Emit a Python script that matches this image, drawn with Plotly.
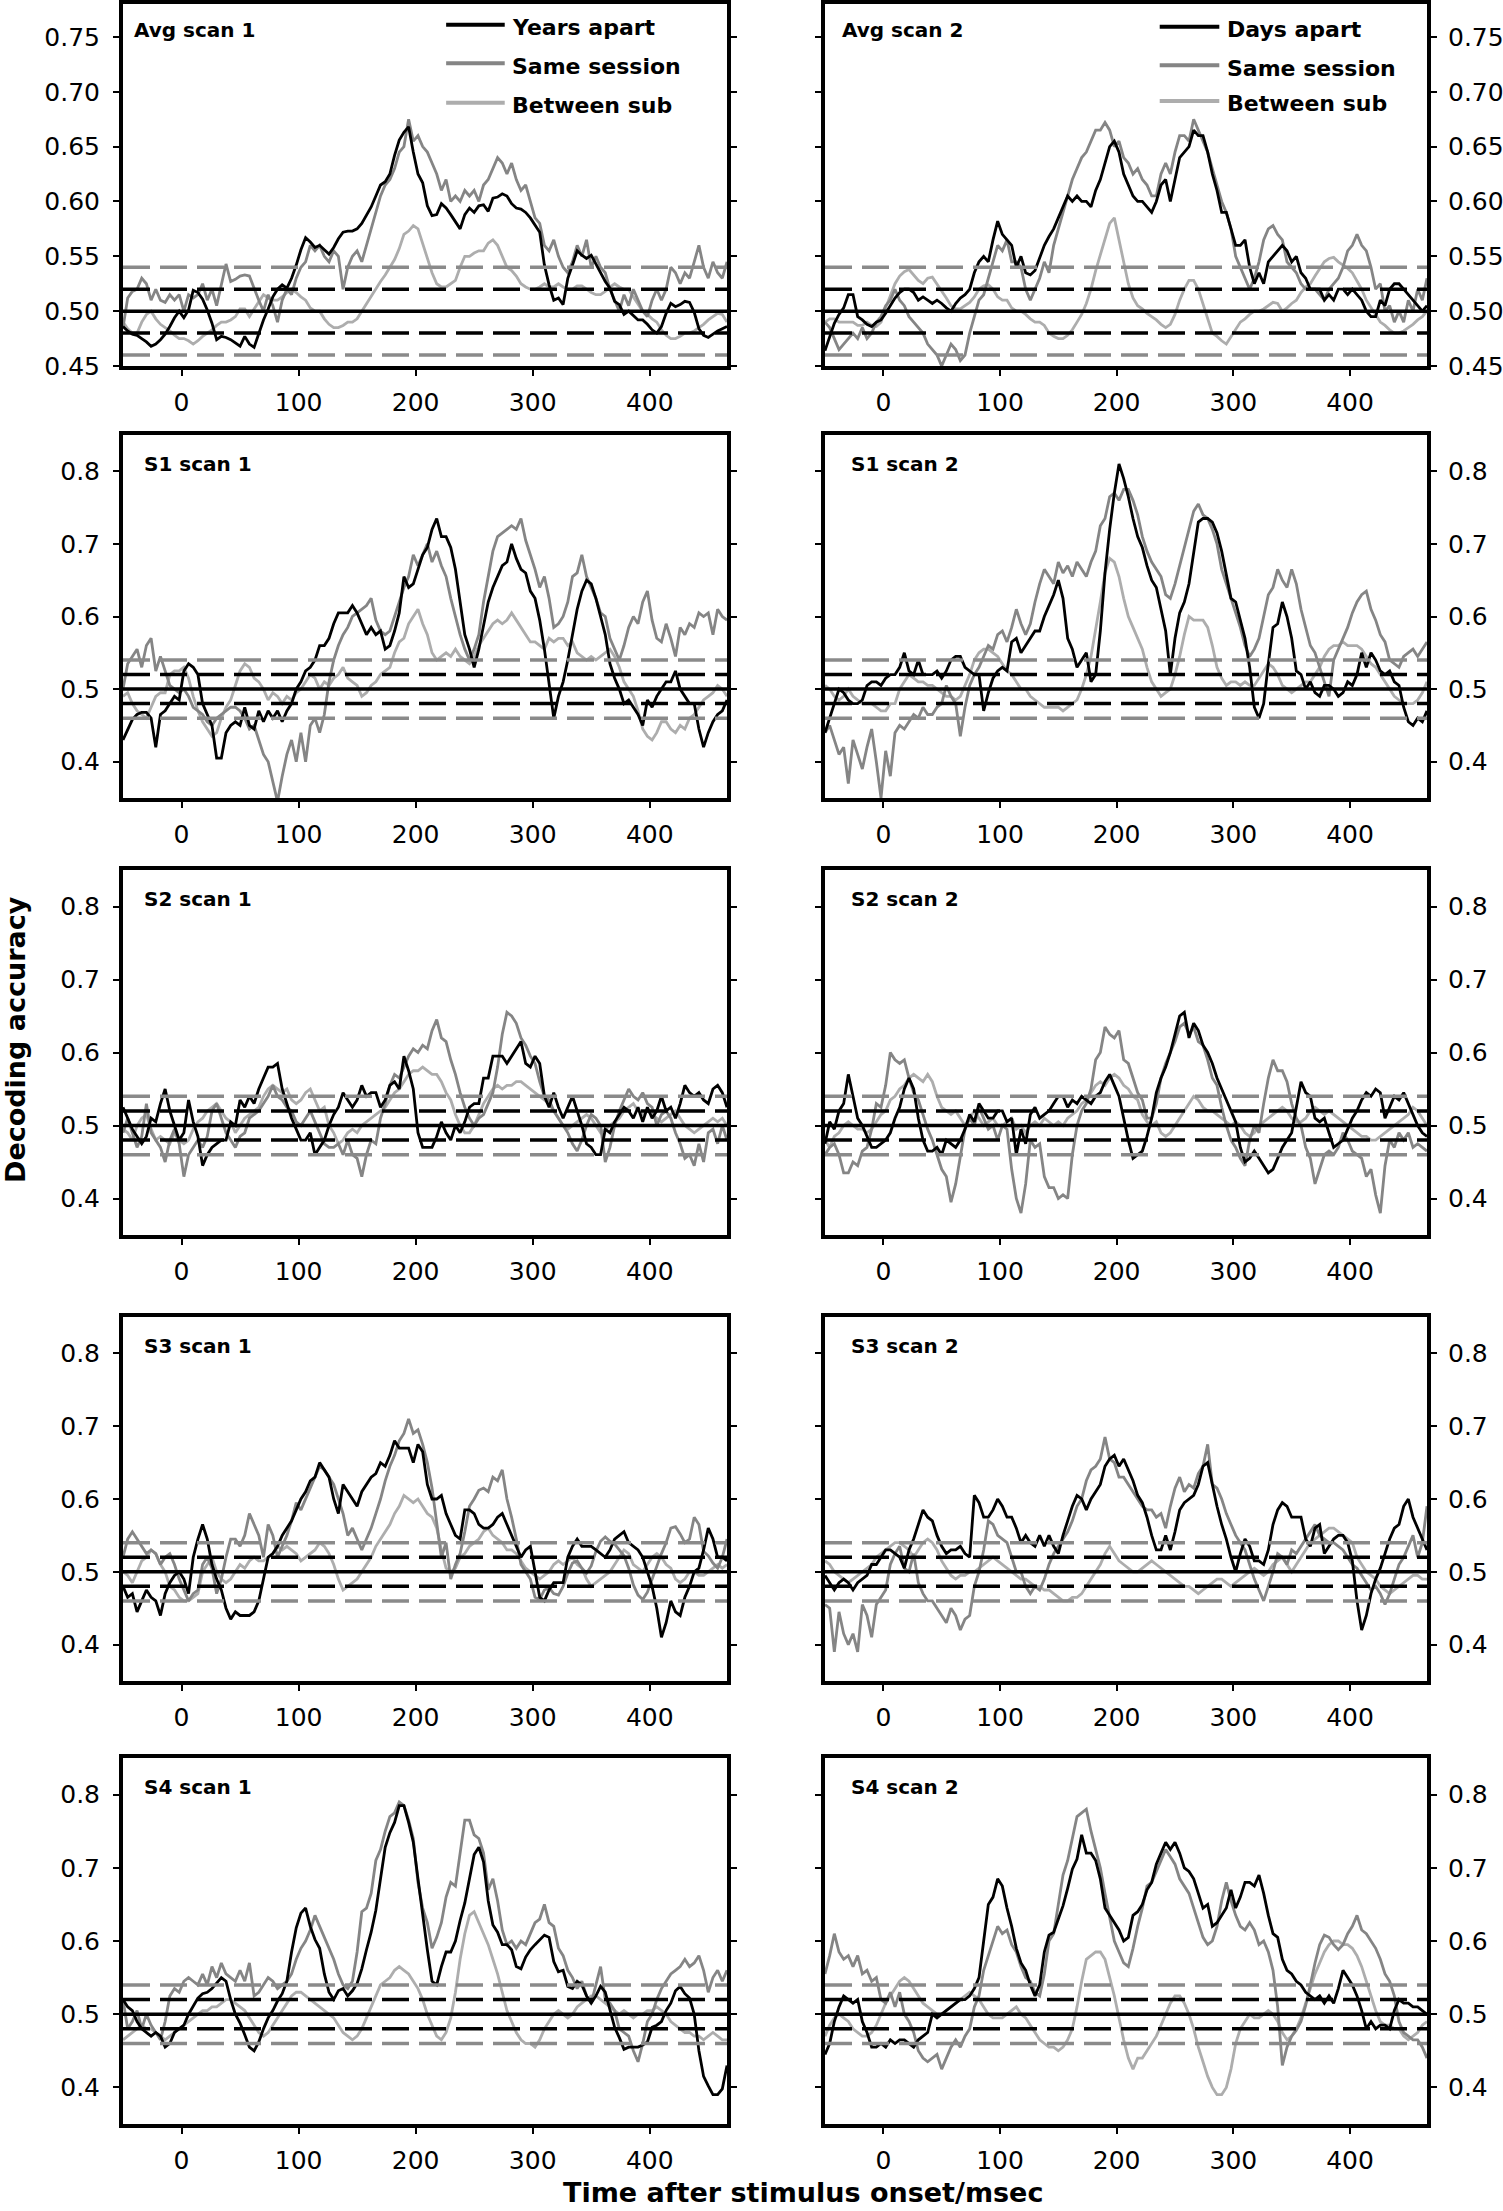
import plotly.graph_objects as go

# ---------------- data ----------------
T = [-50,-46,-42,-38,-34,-30,-26,-22,-18,-14,
     -10,-6,-2,2,6,10,14,18,22,26,
     30,34,38,42,46,50,54,58,62,66,
     70,74,78,82,86,90,94,98,102,106,
     110,114,118,122,126,130,134,138,142,146,
     150,154,158,162,166,170,174,178,182,186,
     190,194,198,202,206,210,214,218,222,226,
     230,234,238,242,246,250,254,258,262,266,
     270,274,278,282,286,290,294,298,302,306,
     310,314,318,322,326,330,334,338,342,346,
     350,354,358,362,366,370,374,378,382,386,
     390,394,398,402,406,410,414,418,422,426,
     430,434,438,442,446,450,454,458,462,466]

AVG1_APART = [
 .486,.482,.479,.478,.475,.472,.468,.470,.474,.479,
 .486,.494,.500,.494,.501,.519,.517,.511,.501,.489,
 .474,.477,.476,.474,.471,.468,.477,.470,.467,.480,
 .492,.502,.513,.520,.524,.521,.530,.542,.556,.567,
 .563,.558,.560,.556,.552,.558,.566,.572,.573,.573,
 .575,.580,.588,.595,.605,.615,.618,.625,.642,.656,
 .663,.668,.645,.625,.617,.596,.587,.588,.598,.594,
 .588,.582,.575,.588,.594,.590,.596,.597,.591,.603,
 .604,.607,.605,.598,.594,.593,.590,.585,.578,.572,
 .542,.524,.510,.512,.506,.530,.542,.555,.551,.548,
 .551,.543,.535,.527,.521,.509,.506,.497,.500,.496,
 .492,.492,.488,.483,.480,.486,.498,.507,.504,.506,
 .509,.508,.499,.484,.478,.476,.479,.482,.484,.486]
AVG1_SAME = [
 .485,.512,.518,.520,.530,.525,.510,.520,.510,.508,
 .515,.510,.515,.500,.515,.512,.515,.525,.510,.520,
 .505,.525,.543,.527,.529,.532,.533,.532,.520,.510,
 .500,.515,.505,.490,.510,.520,.515,.530,.540,.545,
 .560,.555,.560,.550,.545,.555,.550,.520,.540,.550,
 .555,.545,.560,.575,.590,.605,.615,.620,.630,.645,
 .650,.675,.655,.660,.650,.645,.635,.625,.610,.620,
 .600,.605,.600,.610,.605,.610,.600,.615,.620,.630,
 .640,.635,.625,.635,.620,.610,.615,.600,.585,.580,
 .560,.555,.565,.550,.540,.535,.545,.560,.550,.565,
 .540,.550,.540,.535,.520,.510,.500,.515,.505,.520,
 .510,.500,.495,.510,.520,.510,.520,.540,.535,.525,
 .535,.530,.545,.560,.540,.530,.545,.535,.530,.545]
AVG1_BETWEEN = [
 .490,.484,.480,.480,.490,.497,.500,.493,.488,.485,
 .482,.478,.475,.475,.473,.470,.473,.477,.480,.483,
 .487,.490,.490,.492,.495,.502,.502,.495,.502,.508,
 .515,.512,.510,.510,.513,.517,.520,.517,.513,.510,
 .503,.500,.500,.493,.488,.485,.485,.487,.490,.490,
 .493,.500,.507,.513,.520,.527,.533,.540,.547,.557,
 .570,.573,.578,.575,.562,.547,.535,.525,.522,.522,
 .525,.528,.540,.550,.550,.553,.555,.555,.562,.565,
 .560,.550,.540,.537,.532,.525,.522,.520,.520,.522,
 .525,.522,.522,.525,.522,.520,.520,.523,.523,.520,
 .517,.515,.515,.518,.522,.525,.522,.520,.520,.513,
 .507,.500,.497,.493,.490,.483,.478,.475,.475,.477,
 .480,.480,.482,.485,.488,.492,.495,.498,.497,.490]

AVG2_APART = [
 .464,.477,.489,.497,.503,.515,.515,.495,.492,.488,
 .486,.490,.492,.498,.505,.512,.517,.520,.520,.517,
 .510,.513,.510,.507,.510,.507,.503,.500,.507,.512,
 .515,.520,.535,.545,.550,.545,.565,.582,.570,.565,
 .560,.540,.550,.535,.533,.537,.548,.560,.568,.575,
 .585,.595,.605,.600,.605,.600,.600,.595,.610,.620,
 .635,.650,.655,.645,.625,.615,.605,.600,.600,.595,
 .590,.600,.615,.620,.600,.620,.640,.645,.650,.665,
 .660,.660,.645,.625,.610,.590,.590,.575,.560,.560,
 .565,.540,.525,.535,.525,.545,.550,.555,.560,.555,
 .545,.550,.535,.530,.520,.520,.520,.510,.515,.510,
 .520,.520,.515,.520,.515,.510,.500,.495,.495,.510,
 .505,.520,.525,.525,.520,.515,.510,.505,.500,.505]
AVG2_SAME = [
 .490,.485,.475,.465,.470,.475,.480,.475,.485,.475,
 .480,.490,.495,.505,.510,.520,.510,.505,.495,.490,
 .485,.480,.470,.465,.460,.450,.460,.470,.465,.455,
 .460,.480,.495,.510,.515,.530,.545,.560,.555,.565,
 .545,.545,.540,.520,.510,.520,.530,.545,.535,.560,
 .575,.590,.605,.620,.630,.640,.645,.655,.665,.665,
 .672,.665,.650,.655,.640,.635,.625,.630,.620,.615,
 .605,.605,.625,.635,.625,.645,.660,.660,.655,.675,
 .665,.655,.645,.630,.615,.600,.590,.575,.550,.540,
 .530,.520,.530,.545,.565,.575,.578,.570,.565,.545,
 .540,.535,.525,.520,.520,.520,.515,.510,.520,.525,
 .530,.540,.555,.560,.570,.560,.555,.540,.520,.525,
 .500,.505,.490,.500,.490,.510,.500,.520,.510,.530]
AVG2_BETWEEN = [
 .490,.493,.493,.490,.490,.490,.490,.487,.487,.490,
 .487,.486,.490,.503,.515,.525,.532,.536,.538,.533,
 .528,.525,.530,.531,.525,.518,.512,.505,.502,.502,
 .505,.508,.513,.520,.523,.524,.520,.513,.510,.510,
 .503,.500,.500,.497,.493,.490,.490,.487,.480,.477,
 .475,.475,.478,.483,.490,.497,.507,.520,.537,.552,
 .565,.580,.585,.565,.545,.525,.512,.505,.502,.498,
 .495,.492,.488,.485,.488,.497,.510,.520,.528,.528,
 .520,.507,.493,.480,.477,.473,.470,.477,.483,.490,
 .493,.497,.500,.500,.502,.505,.508,.507,.500,.503,
 .507,.510,.517,.522,.525,.532,.538,.545,.548,.549,
 .545,.542,.539,.535,.528,.520,.510,.503,.497,.490,
 .487,.483,.480,.480,.482,.485,.488,.492,.495,.500]

S1A_APART = [
 .430,.445,.458,.465,.468,.468,.460,.420,.465,.470,
 .480,.490,.485,.525,.535,.530,.520,.480,.465,.450,
 .405,.405,.440,.450,.455,.450,.475,.450,.445,.470,
 .455,.470,.460,.470,.455,.470,.480,.500,.510,.525,
 .530,.540,.560,.560,.570,.590,.605,.605,.605,.615,
 .605,.590,.575,.585,.575,.580,.555,.560,.580,.605,
 .655,.640,.645,.665,.685,.695,.720,.735,.710,.710,
 .695,.665,.620,.575,.555,.530,.555,.590,.620,.640,
 .655,.670,.675,.700,.680,.665,.660,.635,.625,.595,
 .555,.510,.460,.490,.510,.540,.575,.610,.635,.650,
 .645,.625,.600,.575,.535,.515,.500,.480,.485,.475,
 .465,.450,.485,.475,.490,.500,.510,.510,.525,.500,
 .490,.480,.480,.445,.420,.440,.455,.465,.470,.485]
S1A_SAME = [
 .500,.535,.545,.555,.530,.560,.570,.525,.545,.525,
 .505,.500,.495,.500,.490,.475,.470,.465,.455,.450,
 .460,.465,.470,.475,.475,.470,.460,.445,.450,.430,
 .410,.400,.370,.345,.380,.410,.430,.400,.440,.400,
 .450,.460,.440,.465,.510,.540,.560,.575,.585,.600,
 .605,.610,.615,.625,.595,.580,.575,.580,.600,.620,
 .640,.655,.685,.670,.685,.700,.675,.690,.670,.655,
 .625,.600,.575,.555,.540,.555,.575,.620,.655,.690,
 .710,.715,.720,.725,.720,.735,.705,.685,.665,.640,
 .655,.625,.585,.590,.600,.620,.655,.660,.685,.655,
 .640,.625,.605,.600,.570,.555,.540,.560,.585,.600,
 .590,.620,.635,.595,.570,.565,.590,.570,.545,.585,
 .575,.590,.585,.605,.600,.605,.575,.610,.600,.595]
S1A_BETWEEN = [
 .490,.495,.480,.470,.465,.460,.475,.490,.495,.495,
 .520,.525,.525,.530,.515,.490,.470,.455,.445,.435,
 .440,.460,.475,.485,.505,.525,.535,.530,.515,.510,
 .500,.485,.495,.490,.480,.490,.485,.495,.500,.510,
 .520,.515,.500,.510,.505,.515,.520,.530,.515,.510,
 .505,.490,.495,.505,.510,.520,.525,.530,.550,.565,
 .570,.590,.600,.610,.590,.575,.550,.540,.545,.550,
 .545,.555,.545,.540,.535,.545,.560,.570,.580,.590,
 .595,.590,.595,.605,.595,.585,.575,.565,.565,.560,
 .555,.570,.565,.570,.570,.560,.565,.550,.545,.540,
 .545,.540,.545,.550,.555,.545,.530,.510,.500,.490,
 .470,.445,.435,.430,.440,.455,.455,.445,.440,.450,
 .445,.460,.465,.475,.485,.490,.495,.505,.500,.490]

S1B_APART = [
 .440,.460,.480,.500,.495,.485,.480,.480,.485,.505,
 .510,.510,.505,.515,.520,.520,.530,.550,.525,.520,
 .540,.520,.520,.520,.525,.515,.525,.540,.545,.545,
 .530,.525,.520,.520,.470,.495,.515,.525,.530,.525,
 .565,.570,.550,.560,.570,.580,.580,.600,.615,.630,
 .650,.625,.570,.555,.530,.540,.550,.510,.520,.580,
 .660,.720,.770,.810,.790,.765,.735,.710,.695,.670,
 .650,.640,.610,.580,.520,.570,.605,.620,.645,.690,
 .730,.735,.735,.730,.715,.690,.660,.625,.620,.595,
 .570,.530,.475,.460,.480,.535,.585,.590,.620,.600,
 .570,.525,.520,.500,.510,.495,.490,.505,.505,.500,
 .490,.495,.510,.505,.520,.550,.530,.550,.540,.525,
 .520,.525,.510,.505,.475,.455,.450,.460,.455,.470]
S1B_SAME = [
 .440,.450,.430,.410,.420,.370,.430,.410,.390,.420,
 .445,.400,.350,.415,.380,.440,.450,.445,.455,.465,
 .460,.475,.465,.465,.475,.480,.505,.490,.480,.435,
 .475,.505,.520,.530,.545,.560,.555,.575,.580,.565,
 .585,.610,.590,.575,.590,.620,.645,.665,.655,.645,
 .675,.660,.670,.655,.675,.665,.655,.675,.690,.725,
 .735,.765,.770,.760,.775,.775,.760,.740,.710,.690,
 .675,.665,.655,.630,.625,.645,.670,.695,.720,.745,
 .755,.740,.735,.720,.700,.665,.645,.625,.605,.585,
 .560,.545,.555,.570,.600,.630,.640,.665,.650,.640,
 .665,.645,.610,.585,.560,.550,.530,.510,.490,.540,
 .555,.570,.585,.605,.620,.630,.635,.610,.595,.575,
 .565,.540,.535,.530,.545,.550,.555,.545,.555,.565]
S1B_BETWEEN = [
 .505,.500,.490,.485,.490,.500,.490,.485,.480,.480,
 .480,.475,.470,.470,.480,.480,.500,.510,.520,.515,
 .510,.510,.505,.505,.500,.495,.490,.490,.485,.490,
 .505,.520,.540,.550,.555,.555,.550,.545,.535,.525,
 .520,.510,.500,.500,.490,.485,.480,.475,.475,.475,
 .475,.470,.475,.480,.485,.500,.520,.545,.580,.620,
 .660,.680,.675,.655,.625,.600,.585,.570,.555,.530,
 .510,.500,.490,.495,.500,.520,.545,.575,.600,.595,
 .595,.595,.585,.560,.530,.515,.505,.510,.510,.505,
 .510,.505,.505,.515,.525,.535,.530,.520,.505,.500,
 .495,.500,.505,.510,.510,.520,.530,.545,.555,.560,
 .560,.565,.560,.560,.560,.555,.545,.535,.530,.520,
 .510,.500,.490,.485,.480,.480,.480,.485,.495,.510]

S2A_APART = [
 .525,.510,.495,.485,.475,.485,.510,.505,.530,.550,
 .520,.500,.480,.490,.535,.505,.485,.445,.460,.470,
 .475,.480,.480,.505,.500,.535,.525,.540,.530,.550,
 .565,.580,.580,.585,.550,.530,.510,.495,.480,.480,
 .490,.460,.470,.480,.500,.515,.525,.545,.535,.525,
 .535,.555,.540,.545,.545,.525,.535,.555,.560,.550,
 .595,.575,.550,.490,.470,.470,.470,.485,.505,.490,
 .480,.500,.490,.505,.525,.530,.530,.565,.565,.595,
 .595,.595,.585,.595,.605,.615,.585,.580,.595,.585,
 .540,.525,.545,.525,.510,.525,.540,.520,.500,.475,
 .470,.460,.460,.495,.490,.505,.515,.525,.520,.510,
 .525,.505,.525,.510,.520,.540,.520,.525,.510,.530,
 .555,.545,.540,.545,.535,.530,.550,.555,.545,.525]
S2A_SAME = [
 .490,.510,.490,.470,.485,.530,.490,.480,.470,.450,
 .480,.495,.475,.430,.460,.470,.480,.470,.485,.520,
 .530,.510,.490,.480,.470,.485,.490,.510,.515,.520,
 .530,.540,.555,.540,.535,.525,.520,.505,.500,.510,
 .520,.505,.490,.475,.470,.470,.475,.460,.480,.460,
 .455,.430,.460,.480,.475,.510,.530,.555,.570,.565,
 .580,.595,.605,.600,.610,.605,.630,.645,.620,.615,
 .590,.570,.545,.525,.510,.500,.510,.515,.530,.545,
 .580,.625,.655,.650,.640,.620,.610,.595,.585,.560,
 .540,.535,.520,.510,.500,.490,.475,.465,.480,.500,
 .515,.510,.500,.450,.470,.500,.520,.535,.550,.540,
 .535,.545,.530,.525,.500,.515,.520,.510,.490,.475,
 .455,.460,.445,.475,.450,.490,.495,.475,.500,.480]
S2A_BETWEEN = [
 .495,.490,.480,.500,.510,.515,.495,.480,.485,.480,
 .475,.490,.480,.475,.480,.495,.505,.510,.520,.525,
 .530,.520,.510,.505,.490,.500,.510,.515,.520,.525,
 .540,.550,.555,.550,.545,.550,.535,.530,.535,.545,
 .550,.535,.520,.525,.500,.490,.475,.480,.490,.495,
 .490,.500,.505,.510,.515,.520,.525,.535,.545,.550,
 .560,.570,.575,.575,.580,.575,.570,.570,.560,.545,
 .535,.515,.500,.490,.490,.500,.515,.530,.540,.550,
 .555,.550,.555,.555,.560,.560,.555,.550,.545,.540,
 .535,.530,.520,.510,.500,.495,.500,.505,.510,.515,
 .510,.500,.490,.495,.500,.505,.510,.520,.525,.530,
 .520,.515,.520,.515,.510,.505,.510,.515,.520,.510,
 .500,.495,.490,.495,.500,.505,.510,.505,.510,.500]

S2B_APART = [
 .475,.505,.495,.520,.530,.570,.540,.510,.500,.485,
 .470,.470,.475,.480,.490,.510,.525,.550,.565,.550,
 .510,.480,.465,.465,.470,.460,.480,.475,.470,.480,
 .495,.515,.505,.530,.520,.510,.510,.520,.520,.505,
 .510,.460,.495,.475,.515,.525,.510,.515,.520,.530,
 .540,.540,.525,.535,.530,.540,.535,.530,.540,.545,
 .560,.570,.555,.540,.510,.480,.455,.460,.465,.485,
 .510,.545,.565,.580,.600,.625,.650,.655,.620,.640,
 .630,.610,.600,.585,.565,.550,.535,.520,.505,.470,
 .450,.455,.465,.455,.445,.435,.440,.455,.470,.480,
 .490,.525,.560,.545,.540,.510,.505,.510,.490,.470,
 .475,.480,.495,.510,.520,.535,.545,.540,.550,.545,
 .510,.525,.540,.535,.545,.530,.515,.500,.490,.485]
S2B_SAME = [
 .460,.470,.475,.460,.435,.435,.450,.445,.465,.470,
 .495,.530,.525,.555,.600,.590,.585,.590,.565,.545,
 .535,.515,.495,.480,.460,.440,.430,.395,.420,.460,
 .495,.510,.500,.525,.510,.495,.500,.480,.500,.495,
 .440,.400,.380,.420,.480,.470,.475,.430,.415,.415,
 .400,.405,.400,.460,.500,.520,.530,.550,.590,.600,
 .635,.625,.620,.630,.590,.585,.565,.545,.535,.510,
 .510,.530,.565,.585,.600,.615,.635,.640,.625,.635,
 .615,.610,.590,.565,.555,.525,.500,.480,.470,.455,
 .445,.480,.500,.490,.530,.565,.590,.575,.575,.560,
 .530,.510,.500,.470,.455,.420,.440,.460,.465,.460,
 .470,.490,.480,.465,.460,.455,.430,.440,.405,.380,
 .445,.480,.470,.490,.480,.490,.470,.475,.470,.465]
S2B_BETWEEN = [
 .480,.470,.485,.490,.500,.505,.500,.495,.495,.490,
 .495,.505,.515,.520,.535,.540,.550,.555,.565,.570,
 .565,.560,.570,.560,.540,.525,.520,.515,.520,.510,
 .500,.510,.520,.510,.500,.505,.510,.500,.500,.505,
 .510,.495,.500,.490,.500,.505,.500,.510,.505,.500,
 .505,.500,.510,.515,.520,.530,.535,.545,.555,.560,
 .555,.565,.570,.565,.555,.550,.540,.535,.515,.505,
 .500,.505,.490,.485,.490,.500,.510,.520,.530,.540,
 .535,.525,.520,.520,.515,.510,.505,.500,.505,.500,
 .490,.485,.490,.500,.505,.510,.515,.520,.525,.520,
 .510,.505,.505,.510,.520,.525,.520,.515,.520,.515,
 .510,.505,.500,.495,.490,.485,.485,.480,.480,.485,
 .490,.495,.500,.505,.510,.515,.525,.520,.510,.500]

S3A_APART = [
 .480,.465,.470,.445,.460,.475,.465,.460,.440,.470,
 .485,.495,.500,.490,.470,.520,.545,.565,.545,.510,
 .490,.475,.450,.435,.445,.440,.440,.440,.445,.460,
 .490,.520,.525,.535,.550,.560,.570,.585,.600,.610,
 .625,.630,.650,.640,.630,.600,.580,.620,.610,.600,
 .590,.610,.620,.630,.635,.650,.645,.660,.680,.670,
 .670,.670,.650,.675,.665,.620,.600,.600,.605,.580,
 .565,.550,.545,.585,.585,.580,.565,.560,.560,.565,
 .575,.580,.565,.550,.535,.520,.530,.535,.500,.465,
 .460,.475,.485,.485,.485,.520,.535,.545,.535,.535,
 .535,.530,.525,.520,.530,.545,.550,.555,.540,.535,
 .530,.520,.500,.480,.450,.410,.430,.460,.445,.440,
 .465,.480,.500,.505,.530,.560,.545,.520,.520,.515]
S3A_SAME = [
 .520,.545,.555,.545,.535,.525,.530,.525,.510,.520,
 .525,.510,.490,.475,.460,.470,.475,.510,.520,.505,
 .470,.490,.520,.545,.545,.535,.550,.580,.565,.550,
 .520,.565,.550,.520,.535,.550,.570,.595,.585,.600,
 .615,.630,.645,.640,.630,.620,.600,.580,.550,.560,
 .545,.530,.545,.560,.580,.600,.625,.645,.660,.680,
 .690,.710,.690,.695,.675,.650,.615,.570,.520,.540,
 .490,.510,.525,.555,.590,.600,.612,.615,.610,.630,
 .625,.640,.600,.575,.545,.510,.500,.490,.465,.462,
 .475,.478,.470,.468,.480,.498,.512,.515,.505,.498,
 .508,.528,.542,.548,.542,.538,.530,.522,.505,.482,
 .468,.462,.472,.490,.510,.525,.540,.560,.562,.552,
 .540,.545,.575,.565,.528,.522,.512,.505,.520,.545]
S3A_BETWEEN = [
 .500,.495,.485,.500,.515,.520,.530,.525,.510,.500,
 .480,.475,.465,.460,.460,.465,.470,.500,.510,.520,
 .500,.490,.485,.490,.500,.510,.505,.515,.520,.515,
 .515,.520,.525,.535,.530,.535,.530,.525,.515,.520,
 .525,.530,.540,.535,.525,.510,.490,.475,.480,.485,
 .490,.500,.510,.520,.535,.545,.555,.565,.580,.590,
 .605,.600,.595,.600,.590,.580,.575,.560,.530,.505,
 .500,.505,.520,.525,.535,.540,.545,.555,.560,.550,
 .545,.540,.530,.530,.525,.515,.505,.500,.495,.490,
 .495,.500,.510,.515,.510,.515,.520,.510,.505,.490,
 .480,.485,.490,.495,.500,.510,.520,.530,.525,.510,
 .505,.500,.510,.520,.525,.520,.510,.505,.490,.485,
 .490,.500,.500,.495,.495,.500,.505,.510,.505,.510]

S3B_APART = [
 .495,.485,.475,.485,.490,.485,.475,.485,.490,.495,
 .510,.510,.520,.530,.530,.525,.520,.505,.530,.545,
 .565,.585,.575,.570,.550,.535,.525,.530,.530,.535,
 .525,.520,.605,.595,.575,.575,.585,.600,.590,.575,
 .575,.560,.540,.550,.540,.535,.550,.535,.550,.535,
 .525,.550,.570,.590,.605,.600,.585,.600,.610,.620,
 .645,.655,.660,.645,.655,.640,.625,.605,.595,.575,
 .550,.530,.530,.550,.530,.555,.585,.595,.600,.605,
 .620,.645,.650,.620,.590,.565,.545,.520,.500,.525,
 .545,.535,.515,.515,.510,.530,.565,.585,.595,.590,
 .575,.575,.575,.545,.535,.560,.565,.525,.535,.545,
 .550,.550,.540,.515,.460,.420,.440,.470,.490,.505,
 .525,.545,.560,.565,.590,.600,.575,.560,.545,.530]
S3B_SAME = [
 .455,.450,.390,.445,.415,.400,.415,.390,.455,.440,
 .410,.455,.465,.475,.510,.525,.535,.505,.500,.525,
 .485,.470,.460,.460,.450,.440,.430,.450,.440,.420,
 .435,.440,.480,.500,.530,.570,.565,.550,.545,.540,
 .520,.500,.500,.480,.470,.480,.475,.490,.510,.525,
 .535,.545,.555,.570,.590,.600,.625,.640,.645,.655,
 .685,.655,.650,.630,.630,.620,.610,.600,.590,.585,
 .585,.575,.580,.560,.590,.615,.630,.610,.620,.615,
 .635,.645,.675,.620,.615,.600,.580,.565,.550,.540,
 .530,.510,.490,.475,.460,.480,.500,.525,.520,.510,
 .530,.525,.535,.545,.555,.565,.550,.545,.540,.540,
 .535,.530,.520,.510,.505,.495,.485,.475,.480,.470,
 .455,.470,.490,.510,.520,.535,.550,.520,.540,.590]
S3B_BETWEEN = [
 .515,.510,.500,.495,.490,.485,.490,.495,.500,.505,
 .510,.520,.525,.530,.535,.540,.540,.535,.530,.520,
 .530,.540,.545,.540,.530,.515,.505,.495,.490,.495,
 .495,.500,.500,.505,.510,.515,.520,.515,.510,.505,
 .500,.495,.490,.490,.485,.480,.480,.475,.475,.470,
 .465,.460,.460,.465,.465,.470,.480,.490,.500,.510,
 .525,.535,.525,.515,.510,.505,.500,.500,.505,.510,
 .515,.510,.505,.500,.495,.490,.485,.480,.480,.475,
 .470,.475,.480,.485,.490,.490,.485,.480,.485,.490,
 .495,.500,.505,.500,.495,.500,.510,.515,.520,.510,
 .500,.510,.520,.530,.540,.545,.550,.555,.560,.560,
 .555,.550,.545,.540,.520,.510,.500,.495,.490,.480,
 .475,.470,.475,.480,.485,.490,.495,.495,.490,.490]

S4A_APART = [
 .520,.510,.505,.490,.480,.475,.470,.475,.470,.455,
 .460,.475,.480,.485,.500,.512,.522,.528,.530,.535,
 .543,.550,.545,.520,.500,.488,.472,.455,.450,.462,
 .480,.495,.505,.518,.528,.545,.585,.618,.638,.645,
 .620,.602,.590,.555,.530,.520,.532,.535,.525,.532,
 .542,.562,.588,.612,.642,.685,.728,.748,.762,.785,
 .785,.762,.735,.685,.635,.588,.545,.540,.565,.585,
 .585,.600,.628,.652,.685,.718,.728,.708,.655,.622,
 .612,.595,.595,.588,.565,.562,.578,.588,.595,.602,
 .608,.605,.572,.558,.560,.538,.535,.545,.540,.525,
 .515,.525,.538,.530,.505,.482,.468,.452,.455,.455,
 .455,.458,.462,.482,.485,.490,.505,.515,.532,.538,
 .528,.522,.500,.450,.415,.402,.390,.390,.398,.430]
S4A_SAME = [
 .520,.480,.490,.505,.480,.500,.485,.475,.465,.490,
 .525,.535,.530,.545,.550,.545,.540,.555,.540,.565,
 .550,.570,.555,.550,.545,.560,.545,.570,.525,.530,
 .540,.550,.545,.535,.540,.545,.555,.575,.590,.600,
 .615,.635,.620,.605,.590,.575,.555,.540,.535,.545,
 .585,.640,.645,.665,.710,.725,.750,.770,.775,.790,
 .785,.765,.740,.680,.645,.625,.590,.605,.625,.660,
 .680,.675,.720,.765,.765,.745,.740,.720,.670,.685,
 .655,.615,.595,.600,.590,.600,.595,.610,.625,.630,
 .650,.625,.620,.590,.580,.560,.550,.535,.545,.525,
 .515,.540,.565,.520,.515,.505,.480,.475,.470,.450,
 .435,.460,.490,.500,.520,.535,.545,.555,.560,.565,
 .575,.565,.570,.580,.560,.530,.550,.560,.545,.560]
S4A_BETWEEN = [
 .465,.470,.475,.480,.485,.480,.480,.475,.470,.465,
 .470,.475,.480,.485,.490,.495,.500,.505,.505,.510,
 .510,.515,.520,.520,.515,.510,.505,.495,.485,.475,
 .470,.475,.485,.495,.505,.515,.525,.530,.530,.525,
 .520,.515,.510,.505,.500,.495,.485,.475,.470,.465,
 .470,.480,.495,.510,.525,.540,.545,.550,.560,.565,
 .560,.555,.545,.535,.520,.500,.485,.470,.465,.475,
 .495,.530,.575,.610,.635,.640,.625,.610,.595,.575,
 .555,.530,.505,.490,.475,.465,.460,.460,.455,.465,
 .480,.490,.500,.505,.500,.495,.500,.510,.515,.520,
 .525,.525,.520,.515,.510,.505,.500,.505,.500,.495,
 .500,.500,.505,.505,.510,.505,.500,.490,.485,.480,
 .475,.475,.470,.470,.465,.470,.475,.470,.465,.465]

S4B_APART = [
 .445,.460,.490,.510,.525,.520,.515,.520,.490,.475,
 .455,.455,.460,.455,.465,.460,.465,.465,.460,.455,
 .465,.470,.475,.500,.495,.500,.505,.510,.515,.520,
 .520,.525,.535,.550,.600,.650,.660,.685,.675,.645,
 .620,.590,.570,.560,.540,.525,.540,.585,.608,.612,
 .630,.648,.672,.698,.712,.745,.720,.720,.710,.685,
 .645,.635,.625,.615,.600,.605,.635,.640,.650,.670,
 .680,.705,.720,.735,.725,.735,.720,.700,.695,.685,
 .665,.645,.650,.620,.625,.635,.645,.670,.645,.660,
 .680,.680,.675,.690,.665,.635,.610,.605,.575,.560,
 .555,.545,.540,.530,.525,.520,.525,.515,.525,.515,
 .535,.560,.550,.540,.525,.505,.480,.490,.480,.485,
 .485,.480,.505,.520,.515,.515,.510,.510,.505,.500]
S4B_SAME = [
 .555,.580,.610,.585,.575,.580,.565,.580,.555,.560,
 .545,.550,.520,.515,.530,.510,.530,.500,.490,.475,
 .450,.440,.435,.440,.445,.425,.440,.455,.465,.455,
 .470,.480,.510,.525,.560,.580,.600,.620,.610,.615,
 .595,.585,.565,.550,.545,.530,.525,.555,.600,.610,
 .650,.690,.710,.740,.770,.775,.780,.750,.725,.700,
 .665,.630,.600,.585,.570,.565,.590,.620,.645,.675,
 .680,.695,.710,.725,.715,.705,.685,.675,.665,.645,
 .625,.605,.595,.600,.620,.655,.680,.655,.635,.620,
 .615,.625,.615,.595,.600,.585,.560,.510,.430,.455,
 .470,.478,.490,.512,.540,.570,.595,.608,.605,.595,
 .588,.595,.610,.620,.635,.615,.610,.600,.590,.575,
 .555,.545,.525,.490,.475,.470,.465,.465,.455,.440]
S4B_BETWEEN = [
 .470,.485,.495,.500,.495,.490,.480,.475,.470,.470,
 .475,.485,.500,.515,.525,.535,.545,.550,.545,.535,
 .525,.515,.510,.505,.500,.500,.505,.510,.515,.520,
 .525,.530,.525,.520,.510,.500,.495,.495,.495,.500,
 .505,.510,.500,.495,.485,.475,.465,.460,.455,.455,
 .450,.455,.465,.480,.510,.545,.575,.580,.585,.585,
 .575,.550,.525,.495,.465,.440,.425,.440,.440,.450,
 .460,.470,.485,.500,.515,.525,.525,.515,.500,.480,
 .455,.435,.415,.400,.390,.390,.400,.425,.460,.480,
 .490,.500,.495,.495,.500,.505,.500,.490,.475,.465,
 .470,.480,.495,.515,.535,.555,.570,.585,.595,.600,
 .600,.595,.595,.590,.580,.565,.545,.525,.505,.490,
 .485,.485,.480,.480,.470,.465,.470,.475,.485,.490]

PANEL_TITLES = ["Avg scan 1", "Avg scan 2", "S1 scan 1", "S1 scan 2",
                "S2 scan 1", "S2 scan 2", "S3 scan 1", "S3 scan 2",
                "S4 scan 1", "S4 scan 2"]
APART_SERIES = [AVG1_APART, AVG2_APART, S1A_APART, S1B_APART, S2A_APART,
                S2B_APART, S3A_APART, S3B_APART, S4A_APART, S4B_APART]
SAME_SERIES = [AVG1_SAME, AVG2_SAME, S1A_SAME, S1B_SAME, S2A_SAME,
               S2B_SAME, S3A_SAME, S3B_SAME, S4A_SAME, S4B_SAME]
BETWEEN_SERIES = [AVG1_BETWEEN, AVG2_BETWEEN, S1A_BETWEEN, S1B_BETWEEN, S2A_BETWEEN,
                  S2B_BETWEEN, S3A_BETWEEN, S3B_BETWEEN, S4A_BETWEEN, S4B_BETWEEN]
APART_NAMES = ["Years apart", "Days apart"]
SERIES_NAMES = ["Same session", "Between sub"]

CHANCE = 0.50
INNER_BOUNDS = [0.48, 0.52]
OUTER_BOUNDS = [0.46, 0.54]
X_TICKS = [0, 100, 200, 300, 400]
Y_TICKS_AVG = [0.45, 0.50, 0.55, 0.60, 0.65, 0.70, 0.75]
Y_TICKS_SUB = [0.4, 0.5, 0.6, 0.7, 0.8]

# ---------------- style / layout ----------------
W, H = 1503, 2211
BLACK = "#000000"
MID = "#858585"
LIGHT = "#adadad"
DASHGRAY = "#8a8a8a"
FONT = "DejaVu Sans, Liberation Sans, Arial, sans-serif"

COLS = [(121, 729), (823, 1429)]
ROWS = [(2, 368), (433, 800), (868, 1237), (1315, 1683), (1756, 2126)]

fig = go.Figure()
layout = dict(width=W, height=H, margin=dict(l=0, r=0, t=0, b=0, pad=0, autoexpand=False),
              paper_bgcolor="white", plot_bgcolor="white", showlegend=False,
              font=dict(family=FONT, color="black"))
annotations = []
shapes = []

for i in range(10):
    r, c = divmod(i, 2)
    sfx = "" if i == 0 else str(i + 1)
    xname, yname = "x" + sfx, "y" + sfx
    x0, x1 = COLS[c]
    y0, y1 = ROWS[r]
    xdom = [(x0 + 2) / W, (x1 - 2) / W]
    ydom = [1 - (y1 - 2) / H, 1 - (y0 + 2) / H]

    fig.add_trace(go.Scatter(x=T, y=BETWEEN_SERIES[i], mode="lines", name=SERIES_NAMES[1],
                             line=dict(color=LIGHT, width=2.8), xaxis=xname, yaxis=yname))
    fig.add_trace(go.Scatter(x=T, y=SAME_SERIES[i], mode="lines", name=SERIES_NAMES[0],
                             line=dict(color=MID, width=2.8), xaxis=xname, yaxis=yname))
    fig.add_trace(go.Scatter(x=T, y=APART_SERIES[i], mode="lines", name=APART_NAMES[c],
                             line=dict(color=BLACK, width=2.8), xaxis=xname, yaxis=yname))
    xs = [T[0], T[-1]]
    for v in OUTER_BOUNDS:
        fig.add_trace(go.Scatter(x=xs, y=[v, v], mode="lines", hoverinfo="skip",
                                 line=dict(color=DASHGRAY, width=3.5, dash="27px,10px"),
                                 xaxis=xname, yaxis=yname))
    for v in INNER_BOUNDS:
        fig.add_trace(go.Scatter(x=xs, y=[v, v], mode="lines", hoverinfo="skip",
                                 line=dict(color=BLACK, width=3.5, dash="27px,10px"),
                                 xaxis=xname, yaxis=yname))
    fig.add_trace(go.Scatter(x=xs, y=[CHANCE, CHANCE], mode="lines", hoverinfo="skip",
                             line=dict(color=BLACK, width=3.5), xaxis=xname, yaxis=yname))

    tickfont = dict(family=FONT, size=25, color="black")
    layout["xaxis" + sfx] = dict(domain=xdom, anchor=yname, range=[-50, 466],
                                 tickvals=X_TICKS, ticks="outside", ticklen=6, tickwidth=2,
                                 tickcolor="black", showline=True, linewidth=4, linecolor="black",
                                 mirror=True, showgrid=False, zeroline=False, tickfont=tickfont,
                                 ticklabelstandoff=5, automargin=False, fixedrange=True)
    if r == 0:
        yr, yt, yf = [0.45, 0.78], Y_TICKS_AVG, ".2f"
    else:
        yr, yt, yf = [0.35, 0.85], Y_TICKS_SUB, ".1f"
    layout["yaxis" + sfx] = dict(domain=ydom, anchor=xname, range=yr, tickvals=yt, tickformat=yf,
                                 side="left" if c == 0 else "right",
                                 ticks="outside", ticklen=6, tickwidth=2, tickcolor="black",
                                 showline=True, linewidth=4, linecolor="black", mirror="allticks",
                                 showgrid=False, zeroline=False, tickfont=tickfont,
                                 ticklabelstandoff=8 if c == 0 else 6,
                                 automargin=False, fixedrange=True)

    tx = (0.015 if c == 0 else 0.025) if r == 0 else (0.032 if c == 0 else 0.04)
    ty = 0.928 if r == 0 else 0.92
    annotations.append(dict(text="<b>%s</b>" % PANEL_TITLES[i], xref=xname + " domain",
                            yref=yname + " domain", x=tx, y=ty, xanchor="left",
                            yanchor="middle", showarrow=False,
                            font=dict(family=FONT, size=20, color="black")))

    if r == 0:
        if c == 0:
            lx0, lx1, ltx, lys = 0.535, 0.632, 0.641, [0.943, 0.836, 0.727]
        else:
            lx0, lx1, ltx, lys = 0.556, 0.655, 0.665, [0.937, 0.831, 0.732]
        labels = [APART_NAMES[c], SERIES_NAMES[0], SERIES_NAMES[1]]
        colors = [BLACK, MID, LIGHT]
        for lab, col, ly in zip(labels, colors, lys):
            shapes.append(dict(type="line", xref=xname + " domain", yref=yname + " domain",
                               x0=lx0, x1=lx1, y0=ly, y1=ly,
                               line=dict(color=col, width=4)))
            annotations.append(dict(text="<b>%s</b>" % lab, xref=xname + " domain",
                                    yref=yname + " domain", x=ltx, y=ly - 0.008,
                                    xanchor="left", yanchor="middle", showarrow=False,
                                    font=dict(family=FONT, size=22, color="black")))

annotations.append(dict(text="<b>Decoding accuracy</b>", xref="paper", yref="paper",
                        x=15 / W, y=1 - 1040 / H, textangle=-90, showarrow=False,
                        xanchor="center", yanchor="middle",
                        font=dict(family=FONT, size=27, color="black")))
annotations.append(dict(text="<b>Time after stimulus onset/msec</b>", xref="paper", yref="paper",
                        x=803 / W, y=1 - 2192 / H, showarrow=False,
                        xanchor="center", yanchor="middle",
                        font=dict(family=FONT, size=27, color="black")))

layout["annotations"] = annotations
layout["shapes"] = shapes
fig.update_layout(**layout)
fig.write_html("out.html",
               config={"displayModeBar": False, "staticPlot": True},
               post_script="document.body.style.margin='0px';"
                           "document.body.style.padding='0px';"
                           "document.body.style.overflow='hidden';")
